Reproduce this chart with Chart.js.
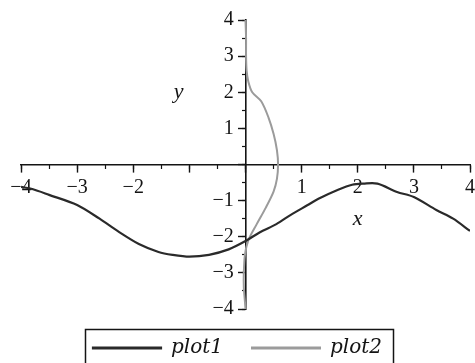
<!DOCTYPE html>
<html>
<head>
<meta charset="utf-8">
<script src="https://cdn.jsdelivr.net/npm/chart.js@4/dist/chart.umd.min.js"></script>
<style>
  html, body { margin: 0; padding: 0; background: #fff; }
  canvas { display: block; }
</style>
</head>
<body>
<canvas id="grafico" width="475" height="363"></canvas>
<script>
const ctx = document.getElementById('grafico')

// plot1: y against x
const plot1X = [-4.0, -3.8, -3.5, -3.0, -2.6, -2.25, -1.9, -1.55, -1.3, -1.0, -0.65, -0.3, 0.0,
                0.25, 0.55, 0.8, 1.1, 1.3, 1.65, 1.9, 2.1, 2.35, 2.7, 3.0, 3.4, 3.7, 4.0]
const plot1Y = [-0.62, -0.68, -0.84, -1.12, -1.5, -1.87, -2.2, -2.42, -2.5, -2.55, -2.5, -2.35, -2.12,
                -1.88, -1.65, -1.4, -1.13, -0.95, -0.7, -0.56, -0.53, -0.53, -0.76, -0.9, -1.26, -1.5, -1.84]

// plot2: traced from top to bottom
const plot2X = [0.0, 0.01, 0.01, 0.02, 0.05, 0.12, 0.28, 0.41, 0.5, 0.56, 0.58, 0.56, 0.5, 0.36, 0.2, 0.05,
                -0.01, -0.03, -0.03, -0.01, 0.0]
const plot2Y = [4.0, 3.5, 3.0, 2.6, 2.3, 2.0, 1.75, 1.3, 0.85, 0.4, 0.0, -0.4, -0.75, -1.2, -1.65, -2.1,
                -2.5, -3.0, -3.4, -3.8, -4.0]

// tick labels (0 and -1 on x are left out)
const xTickLabels = [-4, -3, -2, 1, 2, 3, 4]
const yTickLabels = [-4, -3, -2, -1, 1, 2, 3, 4]

const serif = '"Liberation Serif", "Times New Roman", serif'
const ink = '#141414'

const toPoints = (xs, ys) => xs.map((x, i) => ({ x, y: ys[i] }))
const fmt = v => (v < 0 ? '\u2212' + Math.abs(v) : String(v))
const noSize = isX => s => { if (isX) s.height = 0; else s.width = 0 }

// axis line with the integer ticks
function axisLine(posKey, isX) {
  return {
    type: 'linear', min: -4, max: 4,
    position: posKey,
    afterFit: noSize(isX),
    border: { display: true, color: ink, width: 1.6 },
    grid: { drawOnChartArea: false, drawTicks: true, tickLength: 7, tickColor: ink, tickWidth: 1.4 },
    ticks: { stepSize: 1, autoSkip: false, maxRotation: 0, color: 'rgba(0,0,0,0)', font: { size: 1 } }
  }
}

// half-step ticks, shorter
function minorTicks(posKey, isX) {
  return {
    type: 'linear', min: -4, max: 4,
    position: posKey,
    afterFit: noSize(isX),
    border: { display: false },
    grid: { drawOnChartArea: false, drawTicks: true, tickLength: 4, tickColor: ink, tickWidth: 1.2 },
    ticks: { stepSize: 0.5, autoSkip: false, maxRotation: 0, color: 'rgba(0,0,0,0)', font: { size: 1 } }
  }
}

// the numbers, set a little off the axis line
function tickNumbers(labels, posKey, isX) {
  return {
    type: 'linear', min: -4, max: 4,
    position: posKey,
    afterFit: noSize(isX),
    border: { display: false },
    grid: { display: false, drawTicks: false },
    ticks: {
      stepSize: 1, autoSkip: false, maxRotation: 0, padding: 0,
      color: ink,
      font: { family: serif, size: 20 },
      callback: v => (labels.includes(v) ? fmt(v) : '')
    }
  }
}

// blank side strips so the plot sits inside while the legend stays centred
function sideStrip(side, w) {
  return {
    type: 'linear', position: side, display: true,
    afterFit: s => { s.width = w },
    border: { display: false },
    grid: { display: false },
    ticks: { display: false }
  }
}

// axis names at data positions beside the axes
const axisNames = {
  id: 'axisNames',
  afterDraw(chart) {
    const c = chart.ctx
    const sx = chart.scales.x, sy = chart.scales.y
    c.save()
    c.fillStyle = ink
    c.textAlign = 'center'
    c.textBaseline = 'alphabetic'
    c.font = 'italic 22px ' + serif
    c.fillText('y', sx.getPixelForValue(-1.19), sy.getPixelForValue(1.85))
    c.fillText('x', sx.getPixelForValue(2.0), sy.getPixelForValue(-1.68))
    c.restore()
  }
}

// frame around the legend
const legendFrame = {
  id: 'legendFrame',
  afterDraw(chart) {
    const lg = chart.legend
    if (!lg || !lg.legendHitBoxes.length) return
    const boxes = lg.legendHitBoxes
    const first = boxes[0], last = boxes[boxes.length - 1]
    const c = chart.ctx
    c.save()
    c.strokeStyle = ink
    c.lineWidth = 1.5
    c.strokeRect(first.left - 7.5, first.top - 8.5, last.left + last.width - first.left + 19, 60)
    c.restore()
  }
}

const data = {
  datasets: [{
    label: 'plot1',
    data: toPoints(plot1X, plot1Y),
    borderColor: '#2a2a2a',
    backgroundColor: '#2a2a2a',
    borderWidth: 2.2,
    showLine: true,
    pointRadius: 0,
    tension: 0.3
  }, {
    label: 'plot2',
    data: toPoints(plot2X, plot2Y),
    borderColor: '#9b9b9b',
    backgroundColor: '#9b9b9b',
    borderWidth: 2,
    showLine: true,
    pointRadius: 0,
    tension: 0.3
  }]
}

const config = {
  type: 'scatter',
  data,
  options: {
    responsive: false,
    animation: false,
    layout: { padding: { left: 0, right: 0, top: 20, bottom: -5 } },
    scales: {
      padL: sideStrip('left', 21),
      padR: sideStrip('right', 2),
      xMinor: minorTicks({ y: 0 }, true),
      yMinor: minorTicks({ x: 0 }, false),
      xNum: tickNumbers(xTickLabels, { y: -0.31 }, true),
      yNum: tickNumbers(yTickLabels, { x: -0.21 }, false),
      x: axisLine({ y: 0 }, true),
      y: axisLine({ x: 0 }, false)
    },
    plugins: {
      tooltip: { enabled: false },
      legend: {
        position: 'bottom',
        labels: {
          boxWidth: 68,
          boxHeight: 1,
          padding: 29,
          color: ink,
          font: { family: '"DejaVu Serif", serif', style: 'italic', size: 20 }
        }
      }
    }
  },
  plugins: [axisNames, legendFrame]
}

const graph = new Chart(ctx, config)
</script>
</body>
</html>
